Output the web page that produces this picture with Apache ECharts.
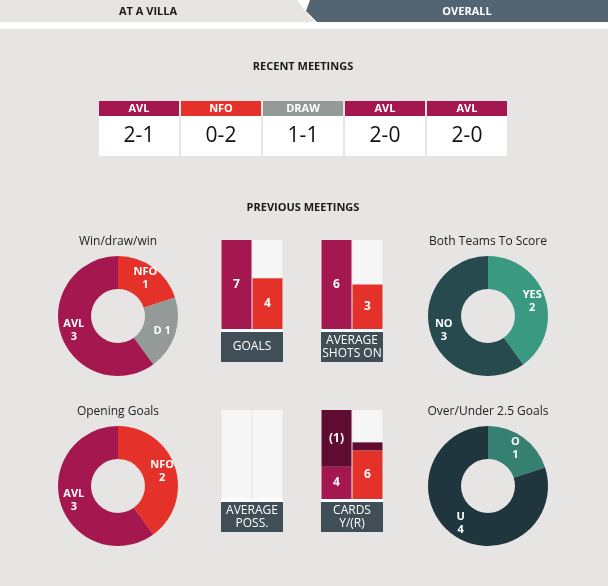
<!DOCTYPE html>
<html><head><meta charset="utf-8">
<script src="https://cdn.jsdelivr.net/npm/echarts@6/dist/echarts.min.js"></script>
<style>html,body{margin:0;padding:0;background:#e6e5e3;}#c{width:608px;height:586px;}</style>
</head><body><div id="c"></div>
<script>
// ---- data ----
const tabLabels = ['AT A VILLA', 'OVERALL'];
const recentTeams = ['AVL', 'NFO', 'DRAW', 'AVL', 'AVL'];
const recentScores = ['2-1', '0-2', '1-1', '2-0', '2-0'];
const wdwNames = ['NFO', 'D', 'AVL'];
const wdwValues = [1, 1, 3];
const bttsNames = ['YES', 'NO'];
const bttsValues = [2, 3];
const openNames = ['NFO', 'AVL'];
const openValues = [2, 3];
const ouNames = ['O', 'U'];
const ouValues = [1, 4];
const barTeams = ['AVL', 'NFO'];
const goals = [7, 4];
const shotsOn = [6, 3];
const possession = [0, 0];
const possLabels = ['0%', '0%'];
const yellowCards = [4, 6];
const redSegment = [7, 1];
const redLabels = ['(1)', ''];

// ---- style ----
const C = {AVL: '#a5174f', NFO: '#e4322b', DRAW: '#949a97', D: '#949a97'};
const FONT = '"Open Sans", Lato, sans-serif';
const chart = echarts.init(document.getElementById('c'), null, {renderer: 'canvas'});

const graphic = [];
// top tabs
graphic.push({type: 'rect', shape: {x: 0, y: 0, width: 608, height: 29}, style: {fill: '#ffffff'}, silent: true});
graphic.push({type: 'polygon', shape: {points: [[0, 0], [297, 0], [314, 22], [0, 22]]}, style: {fill: '#e6e5e3'}, silent: true});
graphic.push({type: 'polygon', shape: {points: [[310, 0], [608, 0], [608, 22], [317, 22], [306, 11]]}, style: {fill: '#536572'}, silent: true});
graphic.push({type: 'text', x: 148, y: 12, style: {text: tabLabels[0], fill: '#1a1a1a', font: 'bold 11px ' + FONT, align: 'center', verticalAlign: 'middle'}, silent: true});
graphic.push({type: 'text', x: 467, y: 12, style: {text: tabLabels[1], fill: '#ffffff', font: 'bold 11px ' + FONT, align: 'center', verticalAlign: 'middle'}, silent: true});
// section titles
graphic.push({type: 'text', x: 303, y: 67, style: {text: 'RECENT MEETINGS', fill: '#1a1a1a', font: 'bold 11px ' + FONT, align: 'center', verticalAlign: 'middle'}, silent: true});
graphic.push({type: 'text', x: 303, y: 208, style: {text: 'PREVIOUS MEETINGS', fill: '#1a1a1a', font: 'bold 11px ' + FONT, align: 'center', verticalAlign: 'middle'}, silent: true});
// recent meetings boxes
recentTeams.forEach((t, i) => {
  const x = 99 + i * 82;
  graphic.push({type: 'rect', shape: {x: x, y: 101, width: 80, height: 15}, style: {fill: C[t]}, silent: true});
  graphic.push({type: 'rect', shape: {x: x, y: 116, width: 80, height: 40}, style: {fill: '#ffffff'}, silent: true});
  graphic.push({type: 'text', x: x + 40, y: 108.5, style: {text: t, fill: '#ffffff', font: 'bold 11px ' + FONT, align: 'center', verticalAlign: 'middle'}, silent: true});
  graphic.push({type: 'text', x: x + 40, y: 136, style: {text: recentScores[i], fill: '#111111', font: '21px ' + FONT, align: 'center', verticalAlign: 'middle'}, silent: true});
});
// donut titles
[['Win/draw/win', 118, 242], ['Both Teams To Score', 488, 242], ['Opening Goals', 118, 412], ['Over/Under 2.5 Goals', 488, 412]].forEach(d => {
  graphic.push({type: 'text', x: d[1], y: d[2], style: {text: d[0], fill: '#222222', font: '12px ' + FONT, align: 'center', verticalAlign: 'middle'}, silent: true});
});
// bar caption boxes
const panels = [
  {x: 221, y: 240, label: 'GOALS'},
  {x: 321, y: 240, label: 'AVERAGE\nSHOTS ON'},
  {x: 221, y: 410, label: 'AVERAGE\nPOSS.'},
  {x: 321, y: 410, label: 'CARDS\nY/(R)'}
];
panels.forEach(p => {
  graphic.push({type: 'rect', z: 100, shape: {x: p.x, y: p.y + 89, width: 62, height: 3}, style: {fill: '#ffffff'}, silent: true});
  graphic.push({type: 'rect', z: 100, shape: {x: p.x, y: p.y + 92, width: 62, height: 30}, style: {fill: '#3f4e57'}, silent: true});
  graphic.push({type: 'text', z: 101, x: p.x + 31, y: p.y + 107, style: {text: p.label, fill: '#ffffff', font: '12px ' + FONT, lineHeight: 13, align: 'center', verticalAlign: 'middle'}, silent: true});
});

function pie(center, names, values, colors, fmt) {
  return {
    type: 'pie', center: center, radius: [27, 60], startAngle: 90, clockwise: true,
    avoidLabelOverlap: false, silent: true, animation: false,
    label: {show: true, position: 'inside', color: '#ffffff', fontWeight: 'bold', fontSize: 11, fontFamily: FONT, lineHeight: 13, formatter: fmt},
    labelLine: {show: false},
    itemStyle: {borderWidth: 0},
    emphasis: {disabled: true},
    data: names.map((n, i) => ({name: n, value: values[i], itemStyle: {color: colors[i]}}))
  };
}
const stdFmt = p => p.name + '\n' + p.value;

const grids = panels.map(p => ({left: p.x, top: p.y, width: 62, height: 89}));
const barColors = [C.AVL, C.NFO];
const maxes = [goals[0] > goals[1] ? goals[0] : goals[1], shotsOn[0] > shotsOn[1] ? shotsOn[0] : shotsOn[1], 100, 11];
const barLabel = {show: true, position: 'inside', color: '#ffffff', fontWeight: 'bold', fontSize: 12, fontFamily: FONT};
function barSeries(gi, data, extra) {
  return Object.assign({
    type: 'bar', xAxisIndex: gi, yAxisIndex: gi, barWidth: 30, silent: true, animation: false,
    showBackground: true, backgroundStyle: {color: '#f6f6f6'},
    data: data.map((v, i) => ({value: v, itemStyle: {color: barColors[i]}})),
    label: barLabel
  }, extra || {});
}

const option = {
  animation: false,
  backgroundColor: '#e6e5e3',
  grid: grids,
  xAxis: grids.map((g, i) => ({type: 'category', gridIndex: i, data: barTeams, show: false})),
  yAxis: grids.map((g, i) => ({type: 'value', gridIndex: i, min: 0, max: maxes[i], show: false})),
  graphic: graphic,
  series: [
    pie([118, 316], wdwNames, wdwValues, [C.NFO, C.D, C.AVL], p => p.name === 'D' ? 'D ' + p.value : stdFmt(p)),
    pie([488, 316], bttsNames, bttsValues, ['#3a9a81', '#264a4d'], stdFmt),
    pie([118, 486], openNames, openValues, [C.NFO, C.AVL], stdFmt),
    pie([488, 486], ouNames, ouValues, ['#358070', '#1f363e'], stdFmt),
    barSeries(0, goals),
    barSeries(1, shotsOn),
    barSeries(2, possession, {label: Object.assign({}, barLabel, {position: 'top', distance: 0, offset: [0, 10], formatter: p => possLabels[p.dataIndex]})}),
    barSeries(3, yellowCards, {stack: 'cards', data: yellowCards.map((v, i) => ({value: v, itemStyle: {color: i === 0 ? C.AVL : C.NFO}}))}),
    {
      type: 'bar', xAxisIndex: 3, yAxisIndex: 3, barWidth: 30, stack: 'cards', silent: true, animation: false,
      data: redSegment.map(v => ({value: v, itemStyle: {color: '#600c30'}})),
      label: Object.assign({}, barLabel, {formatter: p => redLabels[p.dataIndex]})
    }
  ]
};
chart.setOption(option);
</script></body></html>
